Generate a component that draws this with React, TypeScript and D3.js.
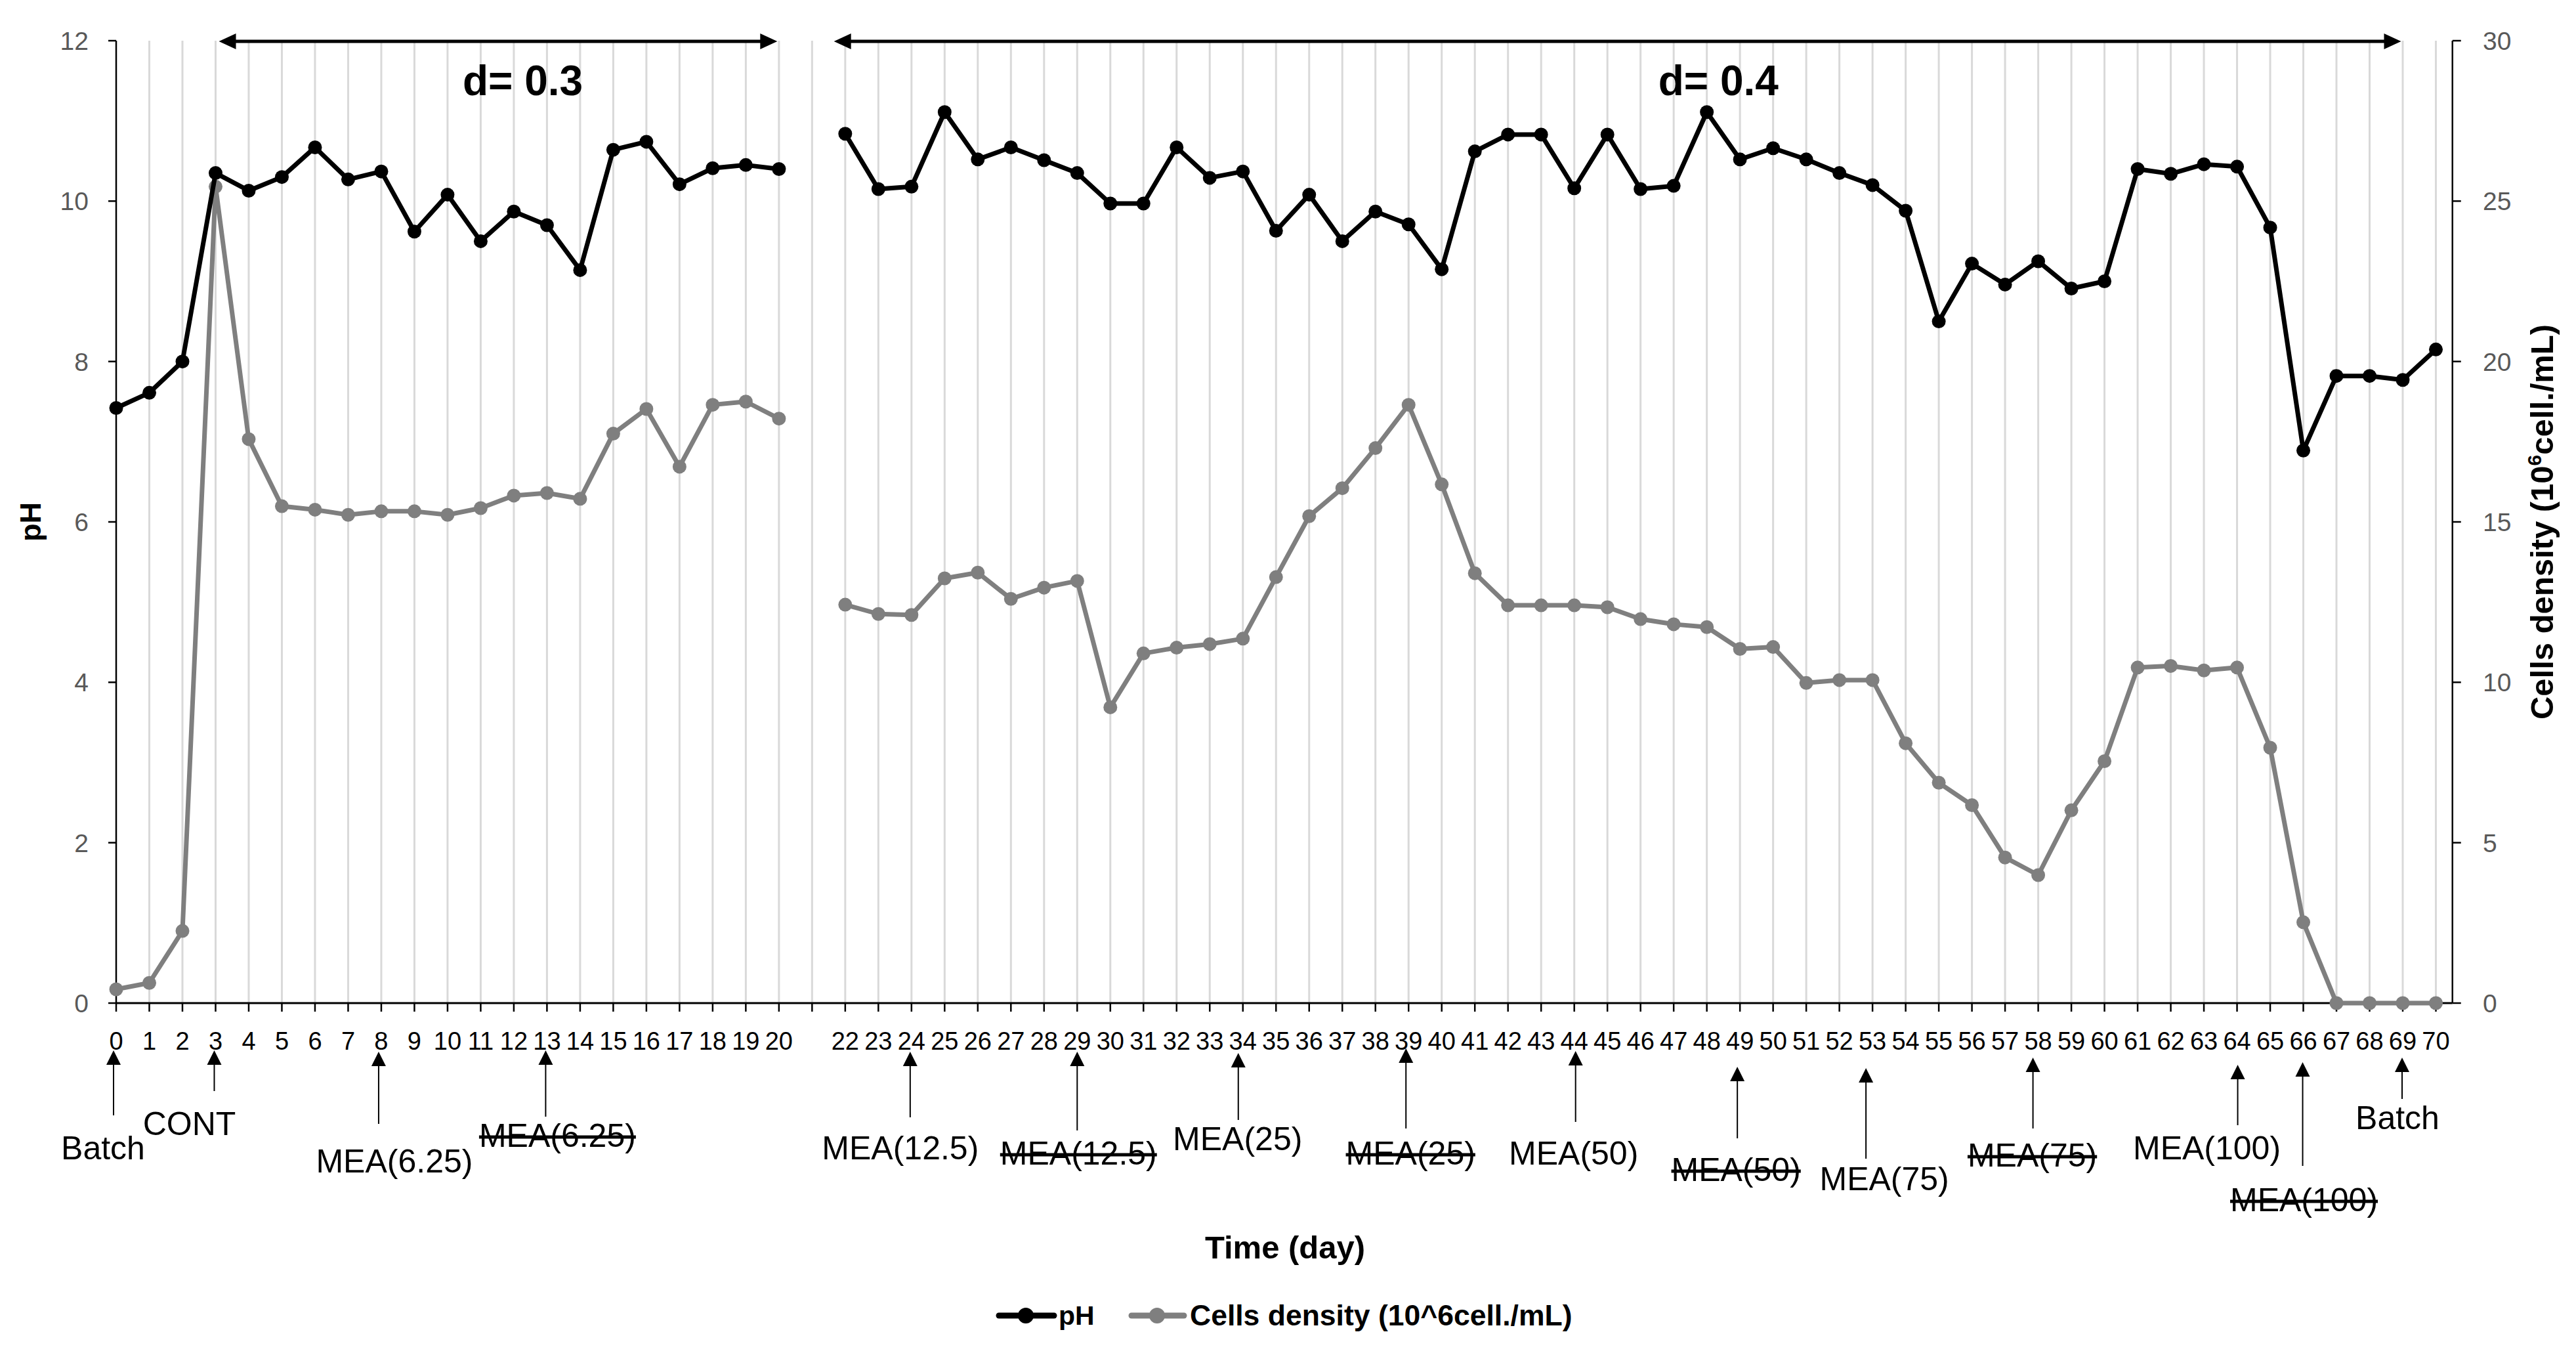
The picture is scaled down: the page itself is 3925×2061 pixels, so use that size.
import React from 'react';
import * as d3 from 'd3';

// ---------- data ----------
const days = [
  0, 1, 2, 3, 4, 5, 6, 7, 8, 9, 10, 11, 12, 13, 14, 15, 16, 17, 18, 19, 20,
  22, 23, 24, 25, 26, 27, 28, 29, 30, 31, 32, 33, 34, 35, 36, 37, 38, 39, 40,
  41, 42, 43, 44, 45, 46, 47, 48, 49, 50, 51, 52, 53, 54, 55, 56, 57, 58, 59, 60,
  61, 62, 63, 64, 65, 66, 67, 68, 69, 70,
];

const phValues = [
  7.42, 7.61, 8.0, 10.35, 10.13, 10.3, 10.67, 10.27, 10.37, 9.62, 10.08, 9.5, 9.87, 9.7, 9.14, 10.64, 10.74, 10.21, 10.41, 10.45, 10.4,
  10.84, 10.15, 10.18, 11.11, 10.52, 10.67, 10.51, 10.35, 9.97, 9.97, 10.67, 10.29, 10.37, 9.63, 10.08, 9.5, 9.87, 9.71, 9.15,
  10.62, 10.83, 10.83, 10.16, 10.83, 10.15, 10.19, 11.11, 10.52, 10.66, 10.52, 10.35, 10.2, 9.88, 8.5, 9.22, 8.96, 9.25, 8.91, 9.0,
  10.4, 10.34, 10.46, 10.43, 9.67, 6.89, 7.82, 7.82, 7.77, 8.15,
];

const cellDensity = [
  0.43, 0.63, 2.25, 25.45, 17.58, 15.49, 15.38, 15.22, 15.33, 15.33, 15.22, 15.43, 15.82, 15.9, 15.72, 17.75, 18.52, 16.72, 18.65, 18.75, 18.22,
  12.42, 12.13, 12.1, 13.24, 13.42, 12.6, 12.95, 13.16, 9.22, 10.9, 11.08, 11.19, 11.36, 13.28, 15.18, 16.05, 17.3, 18.65, 16.17,
  13.4, 12.4, 12.4, 12.4, 12.34, 11.97, 11.81, 11.72, 11.04, 11.1, 9.98, 10.07, 10.07, 8.1, 6.87, 6.17, 4.54, 3.99, 6.01, 7.54,
  10.46, 10.51, 10.37, 10.46, 7.96, 2.52, 0, 0, 0, 0,
];

const tickDays = [
  0, 1, 2, 3, 4, 5, 6, 7, 8, 9, 10, 11, 12, 13, 14, 15, 16, 17, 18, 19, 20, 21,
  22, 23, 24, 25, 26, 27, 28, 29, 30, 31, 32, 33, 34, 35, 36, 37, 38, 39, 40,
  41, 42, 43, 44, 45, 46, 47, 48, 49, 50, 51, 52, 53, 54, 55, 56, 57, 58, 59, 60,
  61, 62, 63, 64, 65, 66, 67, 68, 69, 70,
];
const hiddenTickLabels = [21];

const leftTicks = [0, 2, 4, 6, 8, 10, 12];
const rightTicks = [0, 5, 10, 15, 20, 25, 30];

const phaseLabels = ['d= 0.3', 'd= 0.4'];
const phaseStart = [3.1, 21.66];
const phaseEnd = [19.95, 68.95];
const phaseLabelDay = [12.27, 48.35];

const annotationDays = [0, 3, 8, 13, 24, 29, 34, 39, 44, 49, 53, 58, 64, 66, 69];
const annotationLabels = [
  'Batch', 'CONT', 'MEA(6.25)', 'MEA(6.25)', 'MEA(12.5)', 'MEA(12.5)', 'MEA(25)', 'MEA(25)',
  'MEA(50)', 'MEA(50)', 'MEA(75)', 'MEA(75)', 'MEA(100)', 'MEA(100)', 'Batch',
];
const annotationStruck = [
  false, false, false, true, false, true, false, true,
  false, true, false, true, false, true, false,
];

// layout of the hand-placed annotations (arrow dx, tip y, tail y, label dx, label baseline)
const annotationLayout = [
  [-4, 1600, 1699, -20, 1766],
  [-2, 1600, 1662, -40, 1729],
  [-4, 1602, 1712, 20, 1786],
  [-2, 1600, 1701, 16, 1747],
  [-2, 1602, 1702, -17, 1766],
  [0, 1602, 1722, 2, 1774],
  [-7, 1604, 1706, -8, 1752],
  [-4, 1597, 1719, 3, 1774],
  [2, 1601, 1709, -1, 1774],
  [-4, 1625, 1734, -6, 1799],
  [-10, 1627, 1765, 18, 1813],
  [-8, 1611, 1719, -9, 1777],
  [1, 1622, 1714, -46, 1766],
  [-1, 1618, 1776, 1, 1845],
  [-1, 1611, 1674, -8, 1720],
];

// ---------- layout ----------
const W = 3925;
const H = 2061;
const TOP = 62;
const BOTTOM = 1528;
const FONT = "'Liberation Sans', Arial, sans-serif";
const BLACK = '#000000';
const GRAY = '#7f7f7f';

export default function App() {
  const x = d3.scaleLinear().domain([0, 70]).range([177, 3711.5]);
  const yL = d3.scaleLinear().domain([0, 12]).range([BOTTOM, TOP]);
  const yR = d3.scaleLinear().domain([0, 30]).range([BOTTOM, TOP]);
  const xLeft = x(0);
  const xRight = x(70.5);

  const segments: number[][] = [];
  let cur: number[] = [];
  days.forEach((d, i) => {
    if (i > 0 && d - days[i - 1] > 1) {
      segments.push(cur);
      cur = [];
    }
    cur.push(i);
  });
  segments.push(cur);

  const phLine = d3.line<number>().x((i) => x(days[i])).y((i) => yL(phValues[i]));
  const cdLine = d3.line<number>().x((i) => x(days[i])).y((i) => yR(cellDensity[i]));

  const R = 10.5;
  const LW = 7;

  return (
    <svg
      width={W}
      height={H}
      viewBox={`0 0 ${W} ${H}`}
      style={{ position: 'absolute', left: 0, top: 0, background: '#fff' }}
      fontFamily={FONT}
    >
      <rect x={0} y={0} width={W} height={H} fill="#fff" />

      {tickDays.filter((d) => d > 0).map((d) => (
        <line key={'g' + d} x1={x(d)} x2={x(d)} y1={TOP} y2={BOTTOM} stroke="#d9d9d9" strokeWidth={3} />
      ))}

      <line x1={xLeft} x2={xLeft} y1={TOP} y2={BOTTOM} stroke="#000" strokeWidth={2.5} />
      <line x1={xRight} x2={xRight} y1={TOP} y2={BOTTOM} stroke="#000" strokeWidth={2.5} />
      <line x1={xLeft} x2={xRight} y1={BOTTOM} y2={BOTTOM} stroke="#000" strokeWidth={3} />

      {leftTicks.map((t) => (
        <g key={'lt' + t}>
          <line x1={xLeft - 12} x2={xLeft} y1={yL(t)} y2={yL(t)} stroke="#000" strokeWidth={2.5} />
          <text x={135} y={yL(t)} dy="0.36em" textAnchor="end" fontSize={39} fill="#595959">{t}</text>
        </g>
      ))}
      {rightTicks.map((t) => (
        <g key={'rt' + t}>
          <line x1={xRight} x2={xRight + 13} y1={yR(t)} y2={yR(t)} stroke="#000" strokeWidth={2.5} />
          <text x={3783} y={yR(t)} dy="0.36em" textAnchor="start" fontSize={39} fill="#595959">{t}</text>
        </g>
      ))}

      {tickDays.map((d) => (
        <g key={'xt' + d}>
          <line x1={x(d)} x2={x(d)} y1={BOTTOM} y2={BOTTOM + 13} stroke="#000" strokeWidth={2.5} />
          {hiddenTickLabels.includes(d) ? null : (
            <text x={x(d)} y={1599} textAnchor="middle" fontSize={38} fill="#000">{d}</text>
          )}
        </g>
      ))}

      {segments.map((seg, k) => (
        <path key={'cd' + k} d={cdLine(seg) || ''} fill="none" stroke={GRAY} strokeWidth={LW} strokeLinejoin="round" />
      ))}
      {days.map((d, i) => (
        <circle key={'cdm' + d} cx={x(d)} cy={yR(cellDensity[i])} r={R} fill={GRAY} />
      ))}

      {segments.map((seg, k) => (
        <path key={'ph' + k} d={phLine(seg) || ''} fill="none" stroke={BLACK} strokeWidth={LW} strokeLinejoin="round" />
      ))}
      {days.map((d, i) => (
        <circle key={'phm' + d} cx={x(d)} cy={yL(phValues[i])} r={R} fill={BLACK} />
      ))}

      {phaseLabels.map((lab, k) => {
        const x1 = x(phaseStart[k]);
        const x2 = x(phaseEnd[k]);
        const yA = 63;
        return (
          <g key={'ph' + lab}>
            <line x1={x1 + 20} x2={x2 - 20} y1={yA} y2={yA} stroke="#000" strokeWidth={5} />
            <path d={`M${x1},${yA} L${x1 + 26},${yA - 12} L${x1 + 26},${yA + 12} Z`} fill="#000" />
            <path d={`M${x2},${yA} L${x2 - 26},${yA - 12} L${x2 - 26},${yA + 12} Z`} fill="#000" />
            <text x={x(phaseLabelDay[k])} y={145} textAnchor="middle" fontSize={64} fontWeight="bold" fill="#000">{lab}</text>
          </g>
        );
      })}

      {annotationDays.map((d, i) => {
        const [adx, tip, tail, tdx, ty] = annotationLayout[i];
        const ax = x(d) + adx;
        return (
          <g key={'an' + i}>
            <line x1={ax} x2={ax} y1={tail} y2={tip + 20} stroke="#000" strokeWidth={2} />
            <path d={`M${ax},${tip} L${ax - 11},${tip + 22} L${ax + 11},${tip + 22} Z`} fill="#000" />
            <text
              x={x(d) + tdx}
              y={ty}
              textAnchor="middle"
              fontSize={50}
              fill="#000"
              style={annotationStruck[i] ? { textDecoration: 'line-through' } : undefined}
            >
              {annotationLabels[i]}
            </text>
          </g>
        );
      })}

      <text transform={`translate(62,${(TOP + BOTTOM) / 2}) rotate(-90)`} textAnchor="middle" fontSize={45} fontWeight="bold" fill="#000">pH</text>
      <text transform={`translate(3890,${(TOP + BOTTOM) / 2}) rotate(-90)`} textAnchor="middle" fontSize={49} fontWeight="bold" fill="#000">
        Cells density (10<tspan fontSize={30} dy={-18}>6</tspan><tspan dy={18}>cell./mL)</tspan>
      </text>
      <text x={1958} y={1917} textAnchor="middle" fontSize={49} fontWeight="bold" fill="#000">Time (day)</text>

      <g>
        <line x1={1522} x2={1606} y1={2004} y2={2004} stroke={BLACK} strokeWidth={9} strokeLinecap="round" />
        <circle cx={1563} cy={2004} r={12} fill={BLACK} />
        <text x={1613} y={2018} fontSize={41} fontWeight="bold" fill="#000">pH</text>
        <line x1={1724} x2={1804} y1={2004} y2={2004} stroke={GRAY} strokeWidth={9} strokeLinecap="round" />
        <circle cx={1763} cy={2004} r={12} fill={GRAY} />
        <text x={1813} y={2019} fontSize={44.5} fontWeight="bold" fill="#000">Cells density (10^6cell./mL)</text>
      </g>
    </svg>
  );
}
